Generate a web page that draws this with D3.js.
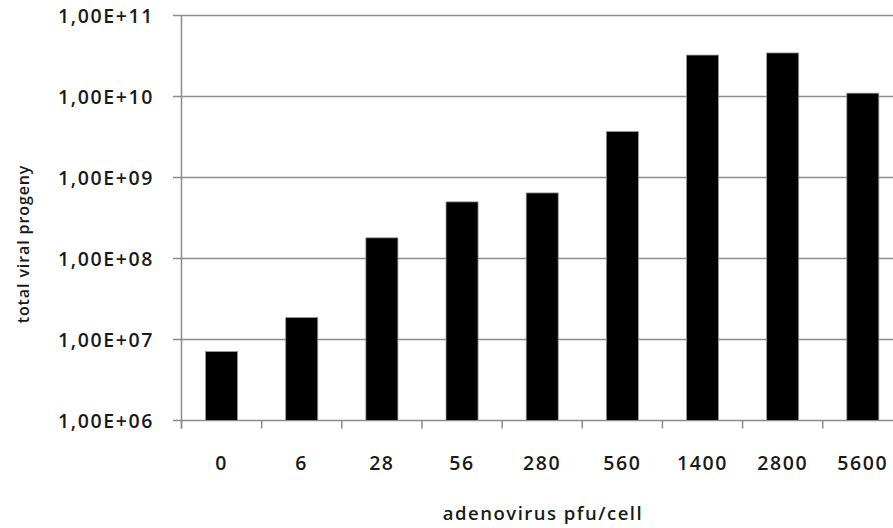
<!DOCTYPE html>
<html>
<head>
<meta charset="utf-8">
<script src="https://cdn.jsdelivr.net/npm/d3@7"></script>
<style>
  body { margin: 0; background: #fff; }
  text { font-family: "Open Sans", sans-serif; font-weight: 600; fill: #1a1a1a; }
</style>
</head>
<body>
<div class="canvas"></div>
<script>
// data
const doses = ["0", "6", "28", "56", "280", "560", "1400", "2800", "5600"]
const progeny = [7.1e6, 1.87e7, 1.8e8, 5.0e8, 6.45e8, 3.7e9, 3.25e10, 3.45e10, 1.1e10]
const yTicks = [1e6, 1e7, 1e8, 1e9, 1e10, 1e11]
const yTickLabels = ["1,00E+06", "1,00E+07", "1,00E+08", "1,00E+09", "1,00E+10", "1,00E+11"]

// settings
const width = 893
const height = 528
const plot = {left: 181.5, right: 902.9, top: 15.5, bottom: 420.5}
const gridColor = "#8c8c8c"

const svg = d3.select(".canvas")
    .append("svg")
    .attr("width", width)
    .attr("height", height)

const x = d3.scaleBand()
    .domain(doses)
    .range([plot.left, plot.right])
    .paddingInner(0.6)
    .paddingOuter(0.3)

const y = d3.scaleLog()
    .domain([1e6, 1e11])
    .range([plot.bottom, plot.top])

// gridlines + y ticks
svg.append("g").selectAll("line")
    .data(yTicks)
    .enter()
    .append("line")
        .attr("x1", plot.left - 8.5)
        .attr("x2", width)
        .attr("y1", d => y(d))
        .attr("y2", d => y(d))
        .attr("stroke", gridColor)
        .attr("stroke-width", 1.5)

svg.append("g").selectAll("text")
    .data(yTicks)
    .enter()
    .append("text")
        .attr("x", 154)
        .attr("y", d => y(d))
        .attr("dy", "0.36em")
        .attr("text-anchor", "end")
        .attr("font-size", 19.5)
        .attr("letter-spacing", 1.6)
        .text((d, i) => yTickLabels[i])

// bars
svg.append("g").selectAll("rect")
    .data(progeny)
    .enter()
    .append("rect")
        .attr("x", (d, i) => x(doses[i]))
        .attr("width", x.bandwidth())
        .attr("y", d => y(d))
        .attr("height", d => plot.bottom - y(d))
        .attr("fill", "#000")
        .attr("stroke", "#9a9a9a")
        .attr("stroke-width", 0.8)

// axes lines
svg.append("line")
    .attr("x1", plot.left).attr("x2", plot.left)
    .attr("y1", plot.top).attr("y2", plot.bottom + 8)
    .attr("stroke", gridColor).attr("stroke-width", 1.5)

const step = x.step()
svg.append("g").selectAll("line")
    .data(d3.range(doses.length + 1))
    .enter()
    .append("line")
        .attr("x1", i => plot.left + i * step)
        .attr("x2", i => plot.left + i * step)
        .attr("y1", plot.bottom)
        .attr("y2", plot.bottom + 8)
        .attr("stroke", gridColor)
        .attr("stroke-width", 1.5)

// x labels
svg.append("g").selectAll("text")
    .data(doses)
    .enter()
    .append("text")
        .attr("x", d => x(d) + x.bandwidth() / 2)
        .attr("y", 463)
        .attr("dy", "0.36em")
        .attr("text-anchor", "middle")
        .attr("font-size", 19.5)
        .attr("letter-spacing", 1.6)
        .text(d => d)

// axis titles
svg.append("text")
    .attr("x", 543)
    .attr("y", 513)
    .attr("dy", "0.36em")
    .attr("text-anchor", "middle")
    .attr("font-size", 18.5)
    .attr("letter-spacing", 1.5)
    .text("adenovirus pfu/cell")

svg.append("text")
    .attr("transform", "translate(23, 244) rotate(-90)")
    .attr("dy", "0.36em")
    .attr("text-anchor", "middle")
    .attr("font-size", 16)
    .attr("letter-spacing", 0.9)
    .text("total viral progeny")
</script>
</body>
</html>
